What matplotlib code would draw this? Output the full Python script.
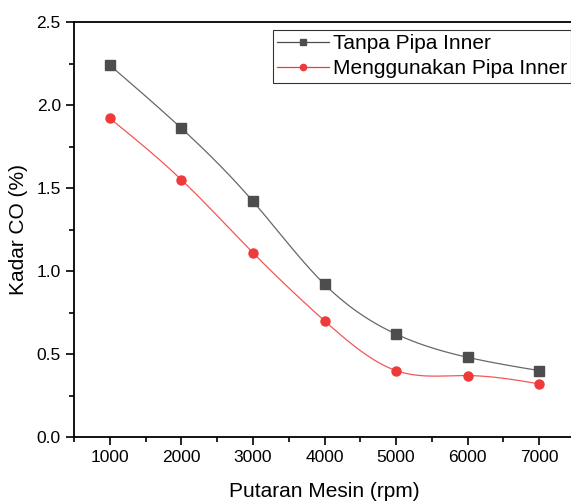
import numpy as np
import matplotlib
matplotlib.use("Agg")
import matplotlib.pyplot as plt
from matplotlib.ticker import MultipleLocator

rpm = [1000, 2000, 3000, 4000, 5000, 6000, 7000]
tanpa = [2.24, 1.86, 1.42, 0.92, 0.62, 0.48, 0.40]
dengan = [1.92, 1.55, 1.11, 0.70, 0.40, 0.37, 0.32]
labels = ["Tanpa Pipa Inner", "Menggunakan Pipa Inner"]

plt.rcParams['font.family'] = ['Liberation Sans', 'DejaVu Sans']


def natural_spline(x, y, n=300):
    x = np.asarray(x, float); y = np.asarray(y, float)
    k = len(x); h = np.diff(x)
    A = np.zeros((k, k)); b = np.zeros(k)
    A[0, 0] = A[-1, -1] = 1
    for i in range(1, k - 1):
        A[i, i - 1] = h[i - 1]; A[i, i] = 2 * (h[i - 1] + h[i]); A[i, i + 1] = h[i]
        b[i] = 6 * ((y[i + 1] - y[i]) / h[i] - (y[i] - y[i - 1]) / h[i - 1])
    M = np.linalg.solve(A, b)
    xs = np.linspace(x[0], x[-1], n)
    idx = np.clip(np.searchsorted(x, xs) - 1, 0, k - 2)
    x0 = x[idx]; x1 = x[idx + 1]; hh = x1 - x0
    ys = (M[idx] * (x1 - xs) ** 3 / (6 * hh) + M[idx + 1] * (xs - x0) ** 3 / (6 * hh)
          + (y[idx] / hh - M[idx] * hh / 6) * (x1 - xs)
          + (y[idx + 1] / hh - M[idx + 1] * hh / 6) * (xs - x0))
    return xs, ys


fig = plt.figure(figsize=(5.71, 5.01), dpi=100)
ax = fig.add_axes([74 / 571, 64 / 501, 501 / 571, 415 / 501])

c1 = '#4d4d4d'
c2 = '#f03a3a'
for ys, col, mk, lab in [(tanpa, c1, 's', labels[0]), (dengan, c2, 'o', labels[1])]:
    sx, sy = natural_spline(rpm, ys)
    ax.plot(sx, sy, color=col, lw=0.9, alpha=0.85)
    ax.plot(rpm, ys, linestyle='none', marker=mk, color=col, ms=6.5)
    ax.plot([], [], color=col, lw=0.9, marker=mk, ms=4.5, label=lab)

ax.set_xlim(500, 7500)
ax.set_ylim(0, 2.5)
ax.xaxis.set_major_locator(MultipleLocator(1000))
ax.xaxis.set_minor_locator(MultipleLocator(500))
ax.yaxis.set_major_locator(MultipleLocator(0.5))
ax.yaxis.set_minor_locator(MultipleLocator(0.25))
ax.yaxis.set_major_formatter(matplotlib.ticker.FormatStrFormatter('%.1f'))
ax.tick_params(which='major', direction='out', length=6, width=1.2, labelsize=12.5)
ax.tick_params(which='minor', direction='out', length=3.5, width=1.2)
for s in ax.spines.values():
    s.set_linewidth(1.3)
ax.spines['right'].set_visible(False)

ax.set_xlabel('Putaran Mesin (rpm)', fontsize=15, labelpad=12)
ax.set_ylabel('Kadar CO (%)', fontsize=15, labelpad=6)

handles, labs = ax.get_legend_handles_labels()
leg = ax.legend(handles[-2:], labs[-2:], loc='upper left', bbox_to_anchor=(0.397, 0.981),
                fontsize=15, frameon=True, fancybox=False, edgecolor='black',
                borderpad=0.22, handlelength=2.45, handletextpad=0.2, labelspacing=0.28,
                borderaxespad=0)
leg.get_frame().set_linewidth(0.8)

fig.savefig('out.png', dpi=100)
